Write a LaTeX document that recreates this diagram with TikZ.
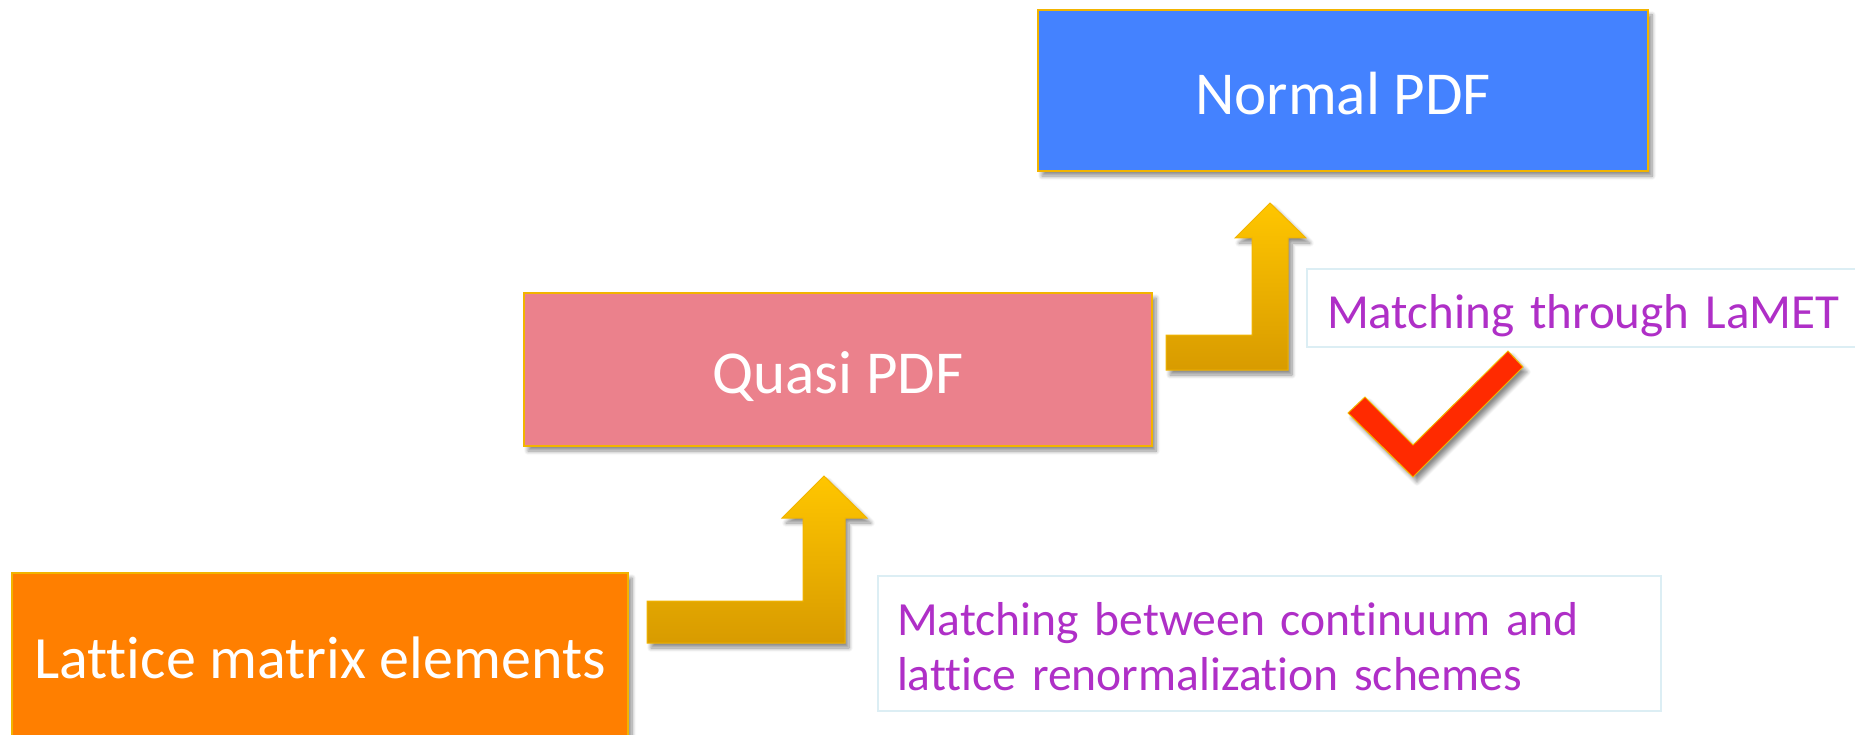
\documentclass[tikz,border=0pt]{standalone}
\usepackage{fontspec}
\setmainfont{Carlito}[Ligatures=NoCommon]
\usetikzlibrary{shadows.blur}

\definecolor{boxgold}{HTML}{F2B400}
\definecolor{normalblue}{HTML}{4482FF}
\definecolor{quasipink}{HTML}{EB818C}
\definecolor{latticeorange}{HTML}{FF7F00}
\definecolor{arrowtop}{HTML}{FFC600}
\definecolor{arrowbottom}{HTML}{D89B00}
\definecolor{checkred}{HTML}{FF2A00}
\definecolor{notepurple}{HTML}{AF2FC7}
\definecolor{noteframe}{HTML}{DCEEF4}

\tikzset{
  softshadow/.style={blur shadow={shadow xshift=4pt, shadow yshift=-5pt,
      shadow blur steps=8, shadow blur radius=4pt, shadow opacity=45}},
  pdfbox/.style={draw=boxgold, line width=1.5pt, inner sep=0pt, text=white,
      text height=48pt, text depth=0pt, softshadow,
      font=\fontsize{61}{70}\selectfont},
  notebox/.style={draw=noteframe, line width=2pt, fill=white, inner ysep=0pt,
      text=notepurple, align=left, font=\fontsize{49}{55}\selectfont},
  bentarrow/.style={draw=boxgold, line width=1pt, top color=arrowtop,
      bottom color=arrowbottom, softshadow},
  tick/.style={draw=boxgold, line width=1pt, fill=checkred, softshadow}
}

\begin{document}
\begin{tikzpicture}[x=1pt, y=-1pt]
  \useasboundingbox (0,0) rectangle (1855,735);

  % three stages
  \node[pdfbox, fill=normalblue, minimum width=610pt, minimum height=161pt]
    (normal) at (1343,90.5) {Normal PDF};
  \node[pdfbox, fill=quasipink, minimum width=628pt, minimum height=153pt]
    (quasi) at (838,369.5) {Quasi PDF};
  \node[pdfbox, fill=latticeorange, minimum width=616pt, minimum height=163pt,
    font=\fontsize{60}{70}\selectfont]
    (lattice) at (320,654.5) {Lattice matrix elements};

  % notes beside the steps
  \node[notebox, inner xsep=20pt, text width=528pt, minimum height=78pt,
    text height=40pt, text depth=0pt]
    (lamet) at (1591,308) {Matching through LaMET};
  \node[notebox, inner xsep=19pt, text width=745pt, minimum height=135pt,
    text height=40pt, text depth=57pt, font=\fontsize{47.6}{55}\selectfont]
    (schemes) at (1269.5,643.5)
    {Matching between continuum and\\lattice renormalization schemes};

  % bent block arrows
  \path[bentarrow] (647,601) -- (803,601) -- (803,518) -- (782,518)
    -- (824,476) -- (867,518) -- (845,518) -- (845,643) -- (647,643) -- cycle;
  \path[bentarrow] (1166,335) -- (1252,335) -- (1252,238) -- (1235,238)
    -- (1270,203) -- (1306,238) -- (1288,238) -- (1288,370) -- (1166,370) -- cycle;

  % check mark
  \path[tick] (1348,413) -- (1365,397) -- (1413,445) -- (1508,351)
    -- (1523,367) -- (1413,477) -- cycle;
\end{tikzpicture}
\end{document}
